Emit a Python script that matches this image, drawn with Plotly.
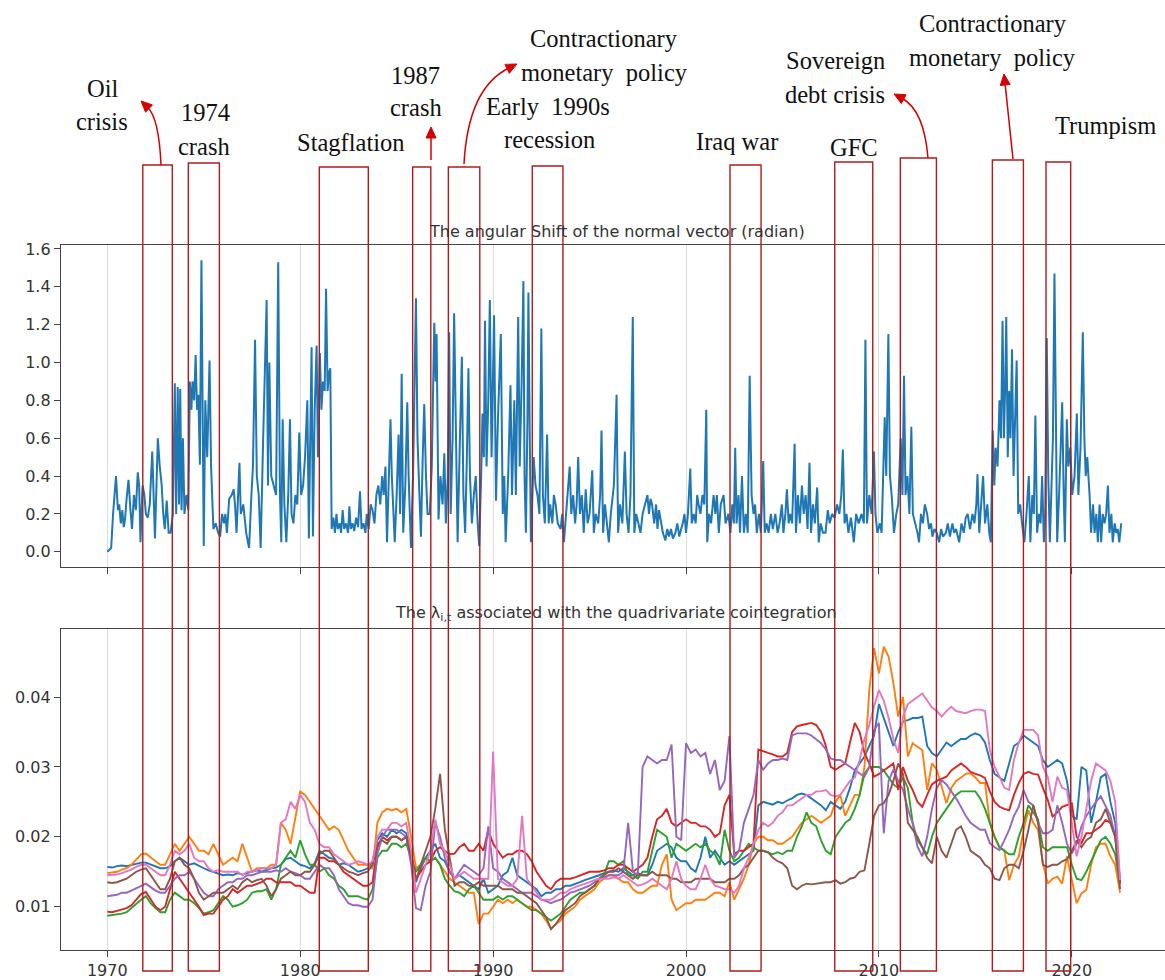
import math
import plotly.graph_objects as go

W, H = 1165, 980

# ---------------------------------------------------------------------------
# Angular shift of the normal vector (radian): (decimal year, value)
# ---------------------------------------------------------------------------
angular_shift = [
    (1970.00, 0.00), (1970.10, 0.01), (1970.20, 0.02), (1970.30, 0.20), (1970.45, 0.40),
    (1970.55, 0.22), (1970.62, 0.25), (1970.70, 0.15), (1970.78, 0.22), (1970.85, 0.13),
    (1970.92, 0.17), (1971.00, 0.28), (1971.10, 0.38), (1971.20, 0.22), (1971.28, 0.12),
    (1971.38, 0.30), (1971.48, 0.22), (1971.58, 0.42), (1971.65, 0.35), (1971.72, 0.05),
    (1971.83, 0.35), (1971.92, 0.30), (1972.00, 0.20), (1972.10, 0.18), (1972.20, 0.25),
    (1972.33, 0.53), (1972.42, 0.20), (1972.47, 0.07), (1972.55, 0.35), (1972.62, 0.60),
    (1972.72, 0.45), (1972.82, 0.35), (1972.90, 0.20), (1972.98, 0.12), (1973.08, 0.27),
    (1973.18, 0.10), (1973.28, 0.10), (1973.40, 0.20), (1973.50, 0.89), (1973.57, 0.20),
    (1973.65, 0.87), (1973.72, 0.25), (1973.78, 0.86), (1973.85, 0.22), (1973.92, 0.60),
    (1974.00, 0.20), (1974.10, 0.30), (1974.20, 0.22), (1974.28, 0.90), (1974.36, 0.75),
    (1974.42, 0.90), (1974.50, 0.80), (1974.58, 1.04), (1974.65, 0.75), (1974.72, 0.83),
    (1974.80, 0.46), (1974.88, 1.54), (1974.95, 0.47), (1975.00, 0.03), (1975.08, 0.80),
    (1975.18, 0.50), (1975.30, 1.01), (1975.38, 0.45), (1975.50, 0.12), (1975.62, 0.15),
    (1975.75, 0.10), (1975.85, 0.08), (1975.95, 0.20), (1976.05, 0.15), (1976.12, 0.20),
    (1976.20, 0.10), (1976.32, 0.28), (1976.45, 0.30), (1976.55, 0.33), (1976.62, 0.25),
    (1976.70, 0.10), (1976.85, 0.47), (1976.92, 0.20), (1977.05, 0.25), (1977.20, 0.10),
    (1977.35, 0.02), (1977.47, 0.30), (1977.55, 0.45), (1977.66, 1.12), (1977.75, 0.40),
    (1977.85, 0.30), (1977.95, 0.02), (1978.08, 0.60), (1978.26, 1.33), (1978.33, 0.35),
    (1978.40, 1.00), (1978.50, 0.40), (1978.62, 0.35), (1978.75, 0.30), (1978.86, 1.53),
    (1978.95, 0.30), (1979.02, 0.05), (1979.09, 0.70), (1979.18, 0.25), (1979.28, 0.05),
    (1979.38, 0.30), (1979.47, 0.70), (1979.55, 0.20), (1979.65, 0.15), (1979.75, 0.30),
    (1979.85, 0.25), (1979.95, 0.63), (1980.05, 0.30), (1980.15, 0.35), (1980.25, 0.50),
    (1980.37, 0.80), (1980.45, 0.07), (1980.52, 0.60), (1980.59, 1.08), (1980.66, 0.08),
    (1980.75, 0.75), (1980.85, 1.09), (1980.92, 0.50), (1981.02, 1.05), (1981.10, 0.75),
    (1981.18, 0.90), (1981.27, 0.85), (1981.34, 1.39), (1981.42, 0.85), (1981.50, 0.95),
    (1981.56, 0.97), (1981.63, 0.12), (1981.72, 0.18), (1981.80, 0.10), (1981.88, 0.20),
    (1981.95, 0.12), (1982.05, 0.15), (1982.12, 0.10), (1982.20, 0.22), (1982.28, 0.12),
    (1982.38, 0.15), (1982.48, 0.10), (1982.55, 0.24), (1982.62, 0.12), (1982.72, 0.15),
    (1982.80, 0.11), (1982.90, 0.18), (1983.00, 0.13), (1983.10, 0.32), (1983.18, 0.12),
    (1983.28, 0.15), (1983.38, 0.10), (1983.45, 0.20), (1983.55, 0.12), (1983.65, 0.25),
    (1983.75, 0.22), (1983.85, 0.15), (1983.95, 0.30), (1984.05, 0.35), (1984.15, 0.25),
    (1984.25, 0.40), (1984.33, 0.30), (1984.42, 0.45), (1984.50, 0.05), (1984.58, 0.40),
    (1984.68, 0.70), (1984.75, 0.40), (1984.82, 0.20), (1984.90, 0.05), (1985.00, 0.30),
    (1985.10, 0.62), (1985.18, 0.20), (1985.26, 0.94), (1985.34, 0.10), (1985.45, 0.35),
    (1985.55, 0.79), (1985.62, 0.40), (1985.74, 0.02), (1985.85, 0.40), (1986.00, 1.34),
    (1986.08, 0.60), (1986.18, 0.30), (1986.26, 0.08), (1986.35, 0.50), (1986.43, 0.78),
    (1986.52, 0.40), (1986.60, 0.20), (1986.72, 0.20), (1986.82, 0.45), (1986.95, 1.21),
    (1987.02, 0.90), (1987.07, 1.15), (1987.17, 0.17), (1987.27, 0.40), (1987.38, 0.25),
    (1987.47, 0.52), (1987.55, 0.15), (1987.65, 0.40), (1987.72, 1.16), (1987.80, 0.20),
    (1987.90, 0.60), (1987.98, 1.26), (1988.08, 0.45), (1988.16, 0.05), (1988.28, 0.60),
    (1988.38, 1.03), (1988.46, 0.30), (1988.55, 0.10), (1988.64, 0.50), (1988.72, 0.97),
    (1988.80, 0.40), (1988.90, 0.15), (1989.00, 0.30), (1989.10, 0.40), (1989.20, 0.15),
    (1989.28, 0.03), (1989.38, 0.40), (1989.45, 0.73), (1989.52, 0.50), (1989.58, 1.22),
    (1989.66, 0.45), (1989.75, 0.80), (1989.83, 1.33), (1989.92, 0.50), (1990.05, 1.25),
    (1990.15, 0.27), (1990.25, 0.70), (1990.40, 1.15), (1990.50, 0.20), (1990.58, 0.40),
    (1990.65, 0.05), (1990.78, 0.40), (1990.90, 0.88), (1990.98, 0.30), (1991.10, 0.80),
    (1991.18, 0.30), (1991.30, 1.24), (1991.38, 0.45), (1991.48, 0.90), (1991.57, 1.43),
    (1991.63, 0.40), (1991.70, 0.10), (1991.78, 0.70), (1991.83, 1.37), (1991.90, 0.60),
    (1991.96, 0.05), (1992.10, 0.50), (1992.20, 0.35), (1992.30, 0.30), (1992.40, 0.20),
    (1992.50, 1.18), (1992.58, 0.30), (1992.68, 0.15), (1992.80, 0.62), (1992.88, 0.15),
    (1992.96, 0.25), (1993.07, 0.15), (1993.15, 0.30), (1993.24, 0.25), (1993.35, 0.15),
    (1993.50, 0.12), (1993.58, 0.20), (1993.67, 0.05), (1993.78, 0.20), (1993.88, 0.30),
    (1993.97, 0.45), (1994.05, 0.20), (1994.15, 0.30), (1994.25, 0.15), (1994.33, 0.25),
    (1994.41, 0.50), (1994.50, 0.20), (1994.60, 0.30), (1994.70, 0.10), (1994.80, 0.33),
    (1994.90, 0.15), (1995.00, 0.20), (1995.14, 0.43), (1995.22, 0.10), (1995.32, 0.20),
    (1995.45, 0.15), (1995.55, 0.30), (1995.62, 0.64), (1995.70, 0.10), (1995.80, 0.25),
    (1995.90, 0.15), (1996.00, 0.05), (1996.10, 0.20), (1996.26, 0.35), (1996.40, 0.83),
    (1996.48, 0.10), (1996.58, 0.25), (1996.70, 0.15), (1996.83, 0.53), (1996.92, 0.20),
    (1997.02, 0.10), (1997.12, 0.30), (1997.24, 1.24), (1997.32, 0.10), (1997.42, 0.20),
    (1997.52, 0.15), (1997.64, 0.10), (1997.75, 0.20), (1997.88, 0.25), (1998.00, 0.30),
    (1998.08, 0.20), (1998.16, 0.28), (1998.24, 0.25), (1998.35, 0.15), (1998.45, 0.25),
    (1998.52, 0.12), (1998.60, 0.22), (1998.70, 0.15), (1998.80, 0.10), (1998.93, 0.06),
    (1999.03, 0.12), (1999.12, 0.08), (1999.22, 0.12), (1999.32, 0.07), (1999.45, 0.10),
    (1999.55, 0.15), (1999.65, 0.08), (1999.75, 0.12), (1999.83, 0.15), (1999.92, 0.20),
    (2000.00, 0.10), (2000.10, 0.20), (2000.22, 0.44), (2000.30, 0.15), (2000.40, 0.20),
    (2000.50, 0.15), (2000.58, 0.30), (2000.65, 0.25), (2000.75, 0.20), (2000.85, 0.30),
    (2000.95, 0.25), (2001.05, 0.75), (2001.10, 0.05), (2001.20, 0.20), (2001.30, 0.15),
    (2001.43, 0.30), (2001.52, 0.20), (2001.60, 0.30), (2001.70, 0.10), (2001.80, 0.25),
    (2001.95, 0.30), (2002.05, 0.15), (2002.20, 0.20), (2002.30, 0.10), (2002.40, 0.25),
    (2002.48, 0.15), (2002.55, 0.55), (2002.62, 0.15), (2002.72, 0.30), (2002.80, 0.10),
    (2002.90, 0.40), (2003.00, 0.10), (2003.10, 0.20), (2003.20, 0.10), (2003.30, 0.93),
    (2003.40, 0.30), (2003.50, 0.20), (2003.58, 0.25), (2003.67, 0.10), (2003.78, 0.20),
    (2003.88, 0.10), (2004.00, 0.48), (2004.08, 0.10), (2004.18, 0.15), (2004.28, 0.10),
    (2004.40, 0.20), (2004.50, 0.12), (2004.63, 0.20), (2004.75, 0.10), (2004.85, 0.15),
    (2004.97, 0.25), (2005.05, 0.10), (2005.15, 0.20), (2005.23, 0.33), (2005.32, 0.15),
    (2005.40, 0.20), (2005.50, 0.15), (2005.63, 0.57), (2005.70, 0.10), (2005.80, 0.30),
    (2005.90, 0.15), (2006.01, 0.35), (2006.10, 0.20), (2006.20, 0.30), (2006.30, 0.12),
    (2006.40, 0.47), (2006.48, 0.10), (2006.58, 0.25), (2006.68, 0.15), (2006.80, 0.34),
    (2006.88, 0.05), (2006.98, 0.15), (2007.10, 0.10), (2007.23, 0.10), (2007.35, 0.22),
    (2007.45, 0.15), (2007.57, 0.20), (2007.70, 0.18), (2007.83, 0.25), (2007.95, 0.20),
    (2008.05, 0.30), (2008.13, 0.54), (2008.22, 0.15), (2008.32, 0.20), (2008.42, 0.10),
    (2008.55, 0.18), (2008.70, 0.05), (2008.82, 0.20), (2008.95, 0.15), (2009.10, 0.20),
    (2009.22, 0.15), (2009.30, 1.12), (2009.38, 0.15), (2009.50, 0.30), (2009.62, 0.20),
    (2009.74, 0.53), (2009.82, 0.20), (2009.92, 0.10), (2010.05, 0.15), (2010.14, 0.10),
    (2010.22, 0.35), (2010.30, 0.71), (2010.38, 0.40), (2010.49, 1.15), (2010.57, 0.40),
    (2010.66, 0.30), (2010.78, 0.10), (2010.90, 0.20), (2011.00, 0.25), (2011.13, 0.60),
    (2011.22, 0.30), (2011.30, 0.93), (2011.38, 0.30), (2011.48, 0.40), (2011.58, 0.20),
    (2011.68, 0.66), (2011.76, 0.20), (2011.90, 0.15), (2012.00, 0.10), (2012.08, 0.05),
    (2012.18, 0.20), (2012.28, 0.15), (2012.38, 0.25), (2012.50, 0.20), (2012.60, 0.12),
    (2012.70, 0.15), (2012.77, 0.08), (2012.88, 0.12), (2013.00, 0.10), (2013.12, 0.05),
    (2013.22, 0.12), (2013.32, 0.08), (2013.47, 0.10), (2013.57, 0.15), (2013.68, 0.08),
    (2013.81, 0.15), (2013.90, 0.10), (2014.00, 0.12), (2014.16, 0.05), (2014.28, 0.15),
    (2014.40, 0.10), (2014.50, 0.18), (2014.60, 0.20), (2014.72, 0.12), (2014.85, 0.20),
    (2014.95, 0.15), (2015.05, 0.25), (2015.11, 0.41), (2015.20, 0.10), (2015.30, 0.25),
    (2015.40, 0.40), (2015.50, 0.15), (2015.62, 0.25), (2015.72, 0.10), (2015.80, 0.05),
    (2015.90, 0.64), (2015.98, 0.35), (2016.05, 0.55), (2016.15, 0.45), (2016.25, 0.80),
    (2016.33, 0.60), (2016.41, 1.22), (2016.48, 0.60), (2016.55, 0.90), (2016.60, 1.24),
    (2016.68, 0.50), (2016.75, 0.85), (2016.82, 0.60), (2016.90, 1.07), (2016.98, 0.40),
    (2017.06, 0.70), (2017.14, 1.01), (2017.22, 0.20), (2017.32, 0.25), (2017.42, 0.15),
    (2017.54, 0.05), (2017.65, 0.20), (2017.77, 0.40), (2017.85, 0.05), (2017.95, 0.30),
    (2018.03, 0.20), (2018.11, 0.72), (2018.20, 0.10), (2018.30, 0.20), (2018.38, 0.15),
    (2018.46, 0.40), (2018.55, 0.05), (2018.62, 0.20), (2018.70, 1.13), (2018.78, 0.40),
    (2018.86, 0.05), (2018.95, 0.30), (2019.02, 0.60), (2019.10, 1.47), (2019.18, 0.50),
    (2019.24, 0.05), (2019.34, 0.30), (2019.42, 0.50), (2019.50, 0.79), (2019.58, 0.30),
    (2019.64, 0.05), (2019.74, 0.70), (2019.82, 0.45), (2019.92, 0.55), (2020.02, 0.30),
    (2020.14, 0.40), (2020.26, 0.73), (2020.34, 0.30), (2020.45, 0.55), (2020.57, 1.16),
    (2020.65, 0.60), (2020.72, 0.40), (2020.80, 0.50), (2020.92, 0.30), (2021.00, 0.10),
    (2021.10, 0.25), (2021.18, 0.10), (2021.27, 0.20), (2021.35, 0.05), (2021.44, 0.25),
    (2021.52, 0.05), (2021.60, 0.20), (2021.70, 0.15), (2021.78, 0.20), (2021.87, 0.35),
    (2021.95, 0.10), (2022.05, 0.20), (2022.12, 0.05), (2022.22, 0.15), (2022.30, 0.10),
    (2022.38, 0.12), (2022.46, 0.05), (2022.56, 0.15),
]

# ---------------------------------------------------------------------------
# Quarterly lambda_{i,t} series, 1970Q1 onwards (two years per row)
# ---------------------------------------------------------------------------
lambda_blue = [
    0.0157, 0.0156, 0.0158, 0.0159, 0.0158, 0.0160, 0.0162, 0.0163,
    0.0163, 0.0160, 0.0158, 0.0155, 0.0155, 0.0158, 0.0165, 0.0170,
    0.0165, 0.0160, 0.0162, 0.0158, 0.0155, 0.0152, 0.0150, 0.0148,
    0.0145, 0.0146, 0.0145, 0.0148, 0.0146, 0.0148, 0.0150, 0.0152,
    0.0150, 0.0153, 0.0155, 0.0156, 0.0160, 0.0168, 0.0170, 0.0165,
    0.0160, 0.0158, 0.0155, 0.0162, 0.0180, 0.0175, 0.0170, 0.0168,
    0.0160, 0.0162, 0.0160, 0.0155, 0.0150, 0.0152, 0.0155, 0.0165,
    0.0195, 0.0205, 0.0200, 0.0210, 0.0205, 0.0210, 0.0205, 0.0180,
    0.0135, 0.0155, 0.0170, 0.0180, 0.0190, 0.0170, 0.0165, 0.0150,
    0.0140, 0.0145, 0.0140, 0.0135, 0.0130, 0.0125, 0.0140, 0.0120,
    0.0125, 0.0130, 0.0145, 0.0150, 0.0170, 0.0145, 0.0140, 0.0135,
    0.0130, 0.0125, 0.0115, 0.0120, 0.0120, 0.0125, 0.0125, 0.0130,
    0.0130, 0.0132, 0.0135, 0.0138, 0.0140, 0.0142, 0.0145, 0.0148,
    0.0150, 0.0152, 0.0150, 0.0155, 0.0150, 0.0145, 0.0148, 0.0145,
    0.0145, 0.0160, 0.0180, 0.0185, 0.0190, 0.0185, 0.0170, 0.0165,
    0.0165, 0.0155, 0.0150, 0.0170, 0.0200, 0.0170, 0.0180, 0.0170,
    0.0160, 0.0165, 0.0160, 0.0165, 0.0170, 0.0175, 0.0180, 0.0245,
    0.0250, 0.0248, 0.0246, 0.0250, 0.0248, 0.0252, 0.0255, 0.0260,
    0.0262, 0.0260, 0.0255, 0.0250, 0.0245, 0.0238, 0.0250, 0.0245,
    0.0240, 0.0250, 0.0270, 0.0295, 0.0305, 0.0315, 0.0330, 0.0345,
    0.0390, 0.0370, 0.0350, 0.0330, 0.0350, 0.0365, 0.0367, 0.0370,
    0.0370, 0.0372, 0.0330, 0.0320, 0.0315, 0.0325, 0.0335, 0.0330,
    0.0335, 0.0340, 0.0340, 0.0345, 0.0348, 0.0345, 0.0335, 0.0310,
    0.0290, 0.0285, 0.0280, 0.0305, 0.0330, 0.0335, 0.0345, 0.0340,
    0.0335, 0.0330, 0.0310, 0.0300, 0.0305, 0.0310, 0.0305, 0.0280,
    0.0230, 0.0225, 0.0300, 0.0295, 0.0220, 0.0250, 0.0285, 0.0290,
    0.0250, 0.0220, 0.0135,
]

lambda_orange = [
    0.0148, 0.0149, 0.0150, 0.0153, 0.0155, 0.0160, 0.0168, 0.0175,
    0.0176, 0.0170, 0.0165, 0.0160, 0.0160, 0.0175, 0.0190, 0.0180,
    0.0190, 0.0200, 0.0190, 0.0180, 0.0180, 0.0175, 0.0190, 0.0175,
    0.0160, 0.0165, 0.0170, 0.0165, 0.0190, 0.0170, 0.0150, 0.0155,
    0.0155, 0.0155, 0.0160, 0.0160, 0.0220, 0.0210, 0.0190, 0.0230,
    0.0265, 0.0260, 0.0250, 0.0240, 0.0230, 0.0220, 0.0210, 0.0215,
    0.0210, 0.0195, 0.0180, 0.0170, 0.0160, 0.0160, 0.0160, 0.0155,
    0.0220, 0.0235, 0.0240, 0.0238, 0.0240, 0.0235, 0.0240, 0.0200,
    0.0155, 0.0160, 0.0170, 0.0165, 0.0170, 0.0160, 0.0150, 0.0140,
    0.0135, 0.0130, 0.0125, 0.0120, 0.0120, 0.0075, 0.0090, 0.0090,
    0.0100, 0.0110, 0.0105, 0.0110, 0.0105, 0.0110, 0.0105, 0.0100,
    0.0100, 0.0095, 0.0090, 0.0080, 0.0068, 0.0075, 0.0080, 0.0090,
    0.0095, 0.0100, 0.0110, 0.0115, 0.0120, 0.0125, 0.0135, 0.0140,
    0.0145, 0.0145, 0.0140, 0.0135, 0.0135, 0.0125, 0.0120, 0.0120,
    0.0125, 0.0130, 0.0130, 0.0160, 0.0175, 0.0110, 0.0095, 0.0100,
    0.0105, 0.0105, 0.0110, 0.0110, 0.0110, 0.0115, 0.0120, 0.0120,
    0.0115, 0.0135, 0.0110, 0.0125, 0.0140, 0.0160, 0.0190, 0.0200,
    0.0200, 0.0195, 0.0195, 0.0190, 0.0190, 0.0195, 0.0200, 0.0210,
    0.0220, 0.0225, 0.0230, 0.0225, 0.0220, 0.0225, 0.0230, 0.0250,
    0.0260, 0.0230, 0.0245, 0.0260, 0.0260, 0.0300, 0.0410, 0.0470,
    0.0434, 0.0472, 0.0458, 0.0420, 0.0372, 0.0400, 0.0315, 0.0334,
    0.0329, 0.0324, 0.0267, 0.0305, 0.0296, 0.0270, 0.0248, 0.0270,
    0.0280, 0.0285, 0.0290, 0.0291, 0.0285, 0.0277, 0.0277, 0.0220,
    0.0200, 0.0185, 0.0181, 0.0138, 0.0160, 0.0172, 0.0210, 0.0238,
    0.0220, 0.0210, 0.0162, 0.0133, 0.0140, 0.0143, 0.0133, 0.0172,
    0.0140, 0.0105, 0.0119, 0.0124, 0.0160, 0.0185, 0.0190, 0.0190,
    0.0172, 0.0160, 0.0120,
]

lambda_green = [
    0.0087, 0.0088, 0.0088, 0.0090, 0.0092, 0.0098, 0.0105, 0.0110,
    0.0115, 0.0105, 0.0098, 0.0092, 0.0092, 0.0110, 0.0120, 0.0115,
    0.0110, 0.0110, 0.0105, 0.0098, 0.0090, 0.0092, 0.0095, 0.0105,
    0.0115, 0.0110, 0.0100, 0.0102, 0.0105, 0.0110, 0.0120, 0.0122,
    0.0122, 0.0125, 0.0110, 0.0125, 0.0160, 0.0170, 0.0180, 0.0170,
    0.0195, 0.0175, 0.0160, 0.0160, 0.0150, 0.0155, 0.0145, 0.0140,
    0.0130, 0.0125, 0.0115, 0.0115, 0.0115, 0.0112, 0.0110, 0.0125,
    0.0170, 0.0180, 0.0180, 0.0190, 0.0190, 0.0185, 0.0190, 0.0170,
    0.0150, 0.0160, 0.0170, 0.0165, 0.0170, 0.0160, 0.0140, 0.0130,
    0.0122, 0.0120, 0.0115, 0.0125, 0.0130, 0.0120, 0.0110, 0.0110,
    0.0110, 0.0115, 0.0110, 0.0115, 0.0115, 0.0110, 0.0105, 0.0100,
    0.0095, 0.0095, 0.0090, 0.0085, 0.0080, 0.0085, 0.0090, 0.0100,
    0.0110, 0.0115, 0.0120, 0.0120, 0.0125, 0.0130, 0.0140, 0.0145,
    0.0165, 0.0165, 0.0160, 0.0165, 0.0145, 0.0145, 0.0140, 0.0150,
    0.0150, 0.0180, 0.0210, 0.0205, 0.0200, 0.0170, 0.0190, 0.0185,
    0.0180, 0.0185, 0.0190, 0.0185, 0.0190, 0.0180, 0.0175, 0.0160,
    0.0210, 0.0180, 0.0165, 0.0170, 0.0180, 0.0190, 0.0185, 0.0180,
    0.0180, 0.0178, 0.0175, 0.0178, 0.0175, 0.0180, 0.0180, 0.0200,
    0.0215, 0.0235, 0.0220, 0.0215, 0.0195, 0.0180, 0.0175, 0.0200,
    0.0210, 0.0220, 0.0225, 0.0240, 0.0260, 0.0290, 0.0300, 0.0300,
    0.0300, 0.0295, 0.0285, 0.0275, 0.0270, 0.0285, 0.0270, 0.0220,
    0.0195, 0.0185, 0.0175, 0.0200, 0.0220, 0.0230, 0.0240, 0.0250,
    0.0260, 0.0265, 0.0265, 0.0265, 0.0265, 0.0255, 0.0240, 0.0220,
    0.0200, 0.0185, 0.0180, 0.0175, 0.0175, 0.0200, 0.0220, 0.0245,
    0.0235, 0.0225, 0.0185, 0.0180, 0.0185, 0.0185, 0.0185, 0.0185,
    0.0160, 0.0140, 0.0138, 0.0150, 0.0165, 0.0180, 0.0195, 0.0200,
    0.0190, 0.0175, 0.0133,
]

lambda_red = [
    0.0093, 0.0092, 0.0094, 0.0096, 0.0098, 0.0102, 0.0110, 0.0118,
    0.0121, 0.0110, 0.0100, 0.0095, 0.0100, 0.0125, 0.0150, 0.0140,
    0.0130, 0.0120, 0.0110, 0.0100, 0.0088, 0.0090, 0.0090, 0.0100,
    0.0110, 0.0115, 0.0125, 0.0120, 0.0125, 0.0130, 0.0130, 0.0132,
    0.0135, 0.0140, 0.0140, 0.0135, 0.0135, 0.0135, 0.0135, 0.0130,
    0.0130, 0.0125, 0.0120, 0.0120, 0.0170, 0.0170, 0.0165, 0.0165,
    0.0160, 0.0150, 0.0145, 0.0140, 0.0135, 0.0130, 0.0130, 0.0135,
    0.0185, 0.0200, 0.0195, 0.0200, 0.0200, 0.0195, 0.0200, 0.0175,
    0.0140, 0.0150, 0.0160, 0.0165, 0.0180, 0.0185, 0.0180, 0.0175,
    0.0176, 0.0185, 0.0190, 0.0180, 0.0180, 0.0190, 0.0180, 0.0210,
    0.0190, 0.0180, 0.0170, 0.0175, 0.0175, 0.0180, 0.0180, 0.0175,
    0.0165, 0.0150, 0.0140, 0.0130, 0.0125, 0.0135, 0.0140, 0.0140,
    0.0140, 0.0142, 0.0145, 0.0148, 0.0150, 0.0150, 0.0150, 0.0152,
    0.0155, 0.0155, 0.0160, 0.0160, 0.0155, 0.0150, 0.0155, 0.0160,
    0.0170, 0.0200, 0.0225, 0.0230, 0.0240, 0.0220, 0.0215, 0.0220,
    0.0225, 0.0220, 0.0220, 0.0215, 0.0215, 0.0210, 0.0200, 0.0205,
    0.0245, 0.0260, 0.0175, 0.0180, 0.0180, 0.0185, 0.0190, 0.0325,
    0.0322, 0.0320, 0.0318, 0.0315, 0.0315, 0.0320, 0.0350, 0.0358,
    0.0360, 0.0362, 0.0363, 0.0360, 0.0350, 0.0330, 0.0300, 0.0296,
    0.0300, 0.0305, 0.0335, 0.0363, 0.0350, 0.0320, 0.0305, 0.0286,
    0.0290, 0.0295, 0.0300, 0.0305, 0.0267, 0.0300, 0.0280, 0.0267,
    0.0250, 0.0243, 0.0260, 0.0275, 0.0280, 0.0283, 0.0286, 0.0295,
    0.0300, 0.0305, 0.0300, 0.0293, 0.0290, 0.0288, 0.0284, 0.0265,
    0.0250, 0.0243, 0.0240, 0.0238, 0.0260, 0.0277, 0.0290, 0.0293,
    0.0290, 0.0289, 0.0270, 0.0253, 0.0229, 0.0235, 0.0243, 0.0245,
    0.0248, 0.0200, 0.0191, 0.0205, 0.0205, 0.0210, 0.0215, 0.0224,
    0.0220, 0.0200, 0.0133,
]

lambda_purple = [
    0.0115, 0.0116, 0.0117, 0.0120, 0.0120, 0.0123, 0.0126, 0.0130,
    0.0133, 0.0128, 0.0123, 0.0120, 0.0120, 0.0130, 0.0140, 0.0145,
    0.0145, 0.0150, 0.0140, 0.0130, 0.0120, 0.0115, 0.0115, 0.0125,
    0.0130, 0.0135, 0.0135, 0.0140, 0.0140, 0.0145, 0.0145, 0.0148,
    0.0150, 0.0150, 0.0150, 0.0152, 0.0150, 0.0155, 0.0150, 0.0148,
    0.0145, 0.0140, 0.0140, 0.0150, 0.0160, 0.0155, 0.0155, 0.0145,
    0.0125, 0.0115, 0.0105, 0.0102, 0.0102, 0.0100, 0.0100, 0.0110,
    0.0175, 0.0200, 0.0210, 0.0210, 0.0210, 0.0205, 0.0200, 0.0160,
    0.0098, 0.0095, 0.0130, 0.0150, 0.0220, 0.0200, 0.0170, 0.0150,
    0.0140, 0.0150, 0.0160, 0.0155, 0.0150, 0.0145, 0.0155, 0.0215,
    0.0155, 0.0150, 0.0140, 0.0135, 0.0130, 0.0125, 0.0120, 0.0120,
    0.0120, 0.0115, 0.0110, 0.0108, 0.0105, 0.0108, 0.0110, 0.0115,
    0.0120, 0.0122, 0.0125, 0.0128, 0.0130, 0.0135, 0.0140, 0.0142,
    0.0145, 0.0145, 0.0145, 0.0150, 0.0220, 0.0150, 0.0145, 0.0300,
    0.0315, 0.0310, 0.0305, 0.0310, 0.0310, 0.0332, 0.0200, 0.0195,
    0.0334, 0.0320, 0.0325, 0.0315, 0.0320, 0.0290, 0.0310, 0.0267,
    0.0280, 0.0344, 0.0170, 0.0180, 0.0220, 0.0240, 0.0260, 0.0310,
    0.0296, 0.0305, 0.0310, 0.0310, 0.0312, 0.0310, 0.0345, 0.0348,
    0.0348, 0.0348, 0.0345, 0.0340, 0.0334, 0.0325, 0.0312, 0.0310,
    0.0310, 0.0305, 0.0300, 0.0296, 0.0290, 0.0286, 0.0300, 0.0353,
    0.0363, 0.0205, 0.0280, 0.0296, 0.0280, 0.0267, 0.0240, 0.0219,
    0.0186, 0.0172, 0.0200, 0.0240, 0.0270, 0.0281, 0.0275, 0.0265,
    0.0255, 0.0243, 0.0230, 0.0220, 0.0215, 0.0210, 0.0210, 0.0191,
    0.0185, 0.0181, 0.0195, 0.0210, 0.0230, 0.0243, 0.0267, 0.0250,
    0.0245, 0.0220, 0.0205, 0.0205, 0.0210, 0.0245, 0.0220, 0.0190,
    0.0176, 0.0190, 0.0215, 0.0230, 0.0240, 0.0250, 0.0258, 0.0245,
    0.0230, 0.0200, 0.0138,
]

lambda_brown = [
    0.0135, 0.0134, 0.0135, 0.0138, 0.0140, 0.0145, 0.0150, 0.0153,
    0.0155, 0.0145, 0.0135, 0.0125, 0.0125, 0.0140, 0.0165, 0.0170,
    0.0160, 0.0155, 0.0140, 0.0120, 0.0110, 0.0115, 0.0120, 0.0120,
    0.0120, 0.0125, 0.0130, 0.0125, 0.0135, 0.0140, 0.0135, 0.0138,
    0.0140, 0.0130, 0.0115, 0.0125, 0.0140, 0.0145, 0.0150, 0.0145,
    0.0145, 0.0150, 0.0150, 0.0160, 0.0175, 0.0180, 0.0180, 0.0170,
    0.0160, 0.0155, 0.0150, 0.0148, 0.0145, 0.0148, 0.0150, 0.0160,
    0.0190, 0.0195, 0.0190, 0.0200, 0.0200, 0.0195, 0.0200, 0.0170,
    0.0138, 0.0160, 0.0180, 0.0200, 0.0240, 0.0290, 0.0210, 0.0170,
    0.0130, 0.0135, 0.0135, 0.0130, 0.0130, 0.0135, 0.0130, 0.0130,
    0.0130, 0.0130, 0.0125, 0.0125, 0.0125, 0.0120, 0.0120, 0.0115,
    0.0110, 0.0105, 0.0095, 0.0085, 0.0068, 0.0075, 0.0085, 0.0095,
    0.0100, 0.0105, 0.0115, 0.0120, 0.0125, 0.0130, 0.0140, 0.0145,
    0.0150, 0.0150, 0.0155, 0.0150, 0.0145, 0.0140, 0.0145, 0.0145,
    0.0145, 0.0150, 0.0145, 0.0145, 0.0145, 0.0140, 0.0140, 0.0135,
    0.0135, 0.0135, 0.0140, 0.0140, 0.0140, 0.0140, 0.0135, 0.0135,
    0.0135, 0.0140, 0.0140, 0.0145, 0.0155, 0.0160, 0.0170, 0.0180,
    0.0180, 0.0178, 0.0170, 0.0165, 0.0162, 0.0155, 0.0130, 0.0125,
    0.0130, 0.0133, 0.0132, 0.0133, 0.0135, 0.0135, 0.0135, 0.0138,
    0.0133, 0.0135, 0.0140, 0.0142, 0.0150, 0.0152, 0.0190, 0.0230,
    0.0245, 0.0248, 0.0260, 0.0280, 0.0305, 0.0290, 0.0220, 0.0210,
    0.0200, 0.0185, 0.0170, 0.0162, 0.0200, 0.0180, 0.0170, 0.0190,
    0.0210, 0.0215, 0.0200, 0.0180, 0.0175, 0.0170, 0.0160, 0.0155,
    0.0140, 0.0138, 0.0155, 0.0160, 0.0160, 0.0155, 0.0180, 0.0210,
    0.0245, 0.0220, 0.0160, 0.0157, 0.0160, 0.0160, 0.0165, 0.0168,
    0.0180, 0.0195, 0.0185, 0.0195, 0.0200, 0.0220, 0.0225, 0.0240,
    0.0220, 0.0200, 0.0125,
]

lambda_pink = [
    0.0145, 0.0145, 0.0146, 0.0148, 0.0150, 0.0153, 0.0157, 0.0160,
    0.0160, 0.0155, 0.0150, 0.0145, 0.0145, 0.0160, 0.0180, 0.0175,
    0.0180, 0.0190, 0.0170, 0.0165, 0.0165, 0.0155, 0.0150, 0.0152,
    0.0150, 0.0150, 0.0150, 0.0150, 0.0145, 0.0150, 0.0150, 0.0152,
    0.0155, 0.0155, 0.0155, 0.0160, 0.0220, 0.0225, 0.0250, 0.0240,
    0.0260, 0.0250, 0.0220, 0.0210, 0.0190, 0.0185, 0.0185, 0.0175,
    0.0170, 0.0165, 0.0160, 0.0162, 0.0165, 0.0163, 0.0160, 0.0165,
    0.0200, 0.0210, 0.0210, 0.0220, 0.0220, 0.0215, 0.0220, 0.0180,
    0.0120, 0.0140, 0.0160, 0.0180, 0.0225, 0.0190, 0.0180, 0.0160,
    0.0140, 0.0145, 0.0150, 0.0145, 0.0140, 0.0140, 0.0140, 0.0140,
    0.0322, 0.0140, 0.0135, 0.0130, 0.0130, 0.0140, 0.0230, 0.0140,
    0.0130, 0.0120, 0.0110, 0.0110, 0.0110, 0.0115, 0.0120, 0.0120,
    0.0125, 0.0128, 0.0130, 0.0132, 0.0135, 0.0138, 0.0140, 0.0140,
    0.0140, 0.0142, 0.0140, 0.0145, 0.0140, 0.0135, 0.0130, 0.0132,
    0.0135, 0.0140, 0.0135, 0.0130, 0.0125, 0.0140, 0.0165, 0.0140,
    0.0130, 0.0125, 0.0125, 0.0140, 0.0160, 0.0140, 0.0130, 0.0128,
    0.0125, 0.0125, 0.0120, 0.0130, 0.0155, 0.0170, 0.0190, 0.0210,
    0.0220, 0.0215, 0.0220, 0.0230, 0.0235, 0.0245, 0.0245, 0.0250,
    0.0255, 0.0260, 0.0260, 0.0265, 0.0265, 0.0267, 0.0260, 0.0258,
    0.0260, 0.0270, 0.0280, 0.0285, 0.0310, 0.0340, 0.0360, 0.0387,
    0.0410, 0.0395, 0.0370, 0.0340, 0.0320, 0.0372, 0.0390, 0.0395,
    0.0400, 0.0405, 0.0395, 0.0385, 0.0380, 0.0372, 0.0380, 0.0386,
    0.0380, 0.0378, 0.0377, 0.0380, 0.0382, 0.0382, 0.0380, 0.0324,
    0.0300, 0.0286, 0.0270, 0.0267, 0.0310, 0.0335, 0.0353, 0.0353,
    0.0353, 0.0345, 0.0300, 0.0286, 0.0250, 0.0286, 0.0270, 0.0267,
    0.0220, 0.0172, 0.0200, 0.0240, 0.0280, 0.0305, 0.0300, 0.0295,
    0.0280, 0.0250, 0.0138,
]

# Event windows highlighted across both panels (label, start year, end year)
event_windows = [
    ("Oil crisis", 1971.84, 1973.37),
    ("1974 crash", 1974.20, 1975.81),
    ("Stagflation", 1980.99, 1983.53),
    ("1987 crash", 1985.83, 1986.77),
    ("Contractionary monetary policy", 1987.68, 1989.31),
    ("Early 1990s recession", 1992.03, 1993.62),
    ("Iraq war", 2002.28, 2003.89),
    ("GFC", 2007.71, 2009.68),
    ("Sovereign debt crisis", 2011.11, 2012.98),
    ("Contractionary monetary policy", 2015.88, 2017.49),
    ("Trumpism", 2018.66, 2019.94),
]

# ---------------------------------------------------------------------------
# Layout helpers (pixel -> paper)
# ---------------------------------------------------------------------------
def PX(x):
    return x / W


def PY(y):
    return 1 - y / H


X_RANGE = [1967.60, 2024.83]
X_DOMAIN = [PX(61), 1.0]

TEXT = "#333333"
SPINE = "#444444"
GRID = "#dddddd"
RECT = "#b01c1c"
ARROW = "#d40000"

quarters = [1970 + q / 4 for q in range(211)]

fig = go.Figure()

fig.add_trace(go.Scatter(
    x=[p[0] for p in angular_shift], y=[p[1] for p in angular_shift],
    mode="lines", line=dict(color="#1f77b4", width=2.0),
    xaxis="x", yaxis="y", hoverinfo="skip",
))

lambda_series = [
    (lambda_blue, "#1f77b4"),
    (lambda_orange, "#ff7f0e"),
    (lambda_green, "#2ca02c"),
    (lambda_red, "#d62728"),
    (lambda_purple, "#9467bd"),
    (lambda_brown, "#8c564b"),
    (lambda_pink, "#e377c2"),
]
for vals, col in lambda_series:
    fig.add_trace(go.Scatter(
        x=quarters[:len(vals)], y=vals, mode="lines",
        line=dict(color=col, width=1.9), xaxis="x2", yaxis="y2", hoverinfo="skip",
    ))

axis_common = dict(
    showline=True, linecolor=SPINE, linewidth=1.3,
    ticks="outside", ticklen=6, tickwidth=1.3, tickcolor=SPINE,
    tickfont=dict(family="DejaVu Sans", size=16, color=TEXT),
    zeroline=False, automargin=False, fixedrange=True,
)

fig.update_layout(
    width=W, height=H,
    margin=dict(l=0, r=0, t=0, b=0),
    paper_bgcolor="white", plot_bgcolor="white",
    showlegend=False,
    xaxis=dict(
        axis_common, domain=X_DOMAIN, range=X_RANGE, anchor="y",
        tick0=1970, dtick=10, showticklabels=False, mirror=True,
        showgrid=True, gridcolor=GRID, gridwidth=1.2,
    ),
    yaxis=dict(
        axis_common, domain=[PY(566.7), PY(245)], range=[-0.079, 1.621], anchor="x",
        tickvals=[0, 0.2, 0.4, 0.6, 0.8, 1.0, 1.2, 1.4, 1.6], tickformat=".1f",
        showgrid=False,
    ),
    xaxis2=dict(
        axis_common, domain=X_DOMAIN, range=X_RANGE, anchor="y2", matches="x",
        tick0=1970, dtick=10, tickformat="d", mirror=True,
        showgrid=True, gridcolor=GRID, gridwidth=1.2,
    ),
    yaxis2=dict(
        axis_common, domain=[PY(950), PY(629.3)], range=[0.0038, 0.0497], anchor="x2",
        tickvals=[0.01, 0.02, 0.03, 0.04], tickformat=".2f",
        showgrid=False,
    ),
)

# Panel titles
fig.add_annotation(
    text="The angular Shift of the normal vector (radian)",
    x=PX(617), y=PY(231), xref="paper", yref="paper", showarrow=False,
    xanchor="center", yanchor="middle",
    font=dict(family="DejaVu Sans", size=16, color=TEXT),
)
fig.add_annotation(
    text="The λ<sub>i,t</sub> associated with the quadrivariate cointegration",
    x=PX(616), y=PY(613), xref="paper", yref="paper", showarrow=False,
    xanchor="center", yanchor="middle",
    font=dict(family="DejaVu Sans", size=16, color=TEXT),
)

# Event windows: outlined boxes spanning both panels
window_tops = [165, 163, 167, 167, 167, 166, 165, 162, 158, 160, 162]
window_bottom = 971
for (label, start, end), top in zip(event_windows, window_tops):
    fig.add_shape(
        type="rect", xref="x2", yref="paper",
        x0=start, x1=end, y0=PY(window_bottom), y1=PY(top),
        line=dict(color=RECT, width=1.4), fillcolor="rgba(0,0,0,0)", layer="above",
    )

# Event labels (one annotation per text line)
NBSP = "\u00a0"
event_labels = [
    ("Oil", 103, 89), ("crisis", 102, 121),
    ("1974", 205, 113), ("crash", 204, 146),
    ("Stagflation", 351, 143),
    ("1987", 415, 75), ("crash", 416, 108),
    ("Contractionary", 604, 38), ("monetary" + NBSP + " policy", 604, 72),
    ("Early" + NBSP + " 1990s", 548, 107), ("recession", 549, 139),
    ("Iraq war", 737, 141),
    ("GFC", 854, 147),
    ("Sovereign", 835, 61), ("debt crisis", 835, 95),
    ("Contractionary", 993, 24), ("monetary" + NBSP + " policy", 992, 57),
    ("Trumpism", 1105, 126),
]
for text, x, y in event_labels:
    fig.add_annotation(
        text=text, x=PX(x), y=PY(y), xref="paper", yref="paper", showarrow=False,
        xanchor="center", yanchor="middle",
        font=dict(family="Liberation Serif", size=24.5, color="#111111"),
    )


# Curved pointer arrows from the boxes to their labels
def add_pointer(start, ctrl, tip, head_len=11, half_w=5):
    dx, dy = tip[0] - ctrl[0], tip[1] - ctrl[1]
    n = math.hypot(dx, dy)
    ux, uy = dx / n, dy / n
    bx, by = tip[0] - ux * head_len, tip[1] - uy * head_len
    curve = (f"M {PX(start[0])},{PY(start[1])} "
             f"Q {PX(ctrl[0])},{PY(ctrl[1])} {PX(bx + ux * 2)},{PY(by + uy * 2)}")
    fig.add_shape(type="path", xref="paper", yref="paper", path=curve,
                  line=dict(color=ARROW, width=1.5))
    lx, ly = bx - uy * half_w, by + ux * half_w
    rx, ry = bx + uy * half_w, by - ux * half_w
    head = (f"M {PX(tip[0])},{PY(tip[1])} L {PX(lx)},{PY(ly)} "
            f"L {PX(rx)},{PY(ry)} Z")
    fig.add_shape(type="path", xref="paper", yref="paper", path=head,
                  line=dict(color=ARROW, width=1), fillcolor=ARROW)


add_pointer((161, 165), (159, 118), (141, 101))
add_pointer((431, 160), (431, 145), (431, 127))
add_pointer((464, 164), (468, 88), (517, 64))
add_pointer((928, 158), (924, 110), (894, 94))
add_pointer((1013, 159), (1008, 110), (1004, 74))

fig.write_html("out.html")
